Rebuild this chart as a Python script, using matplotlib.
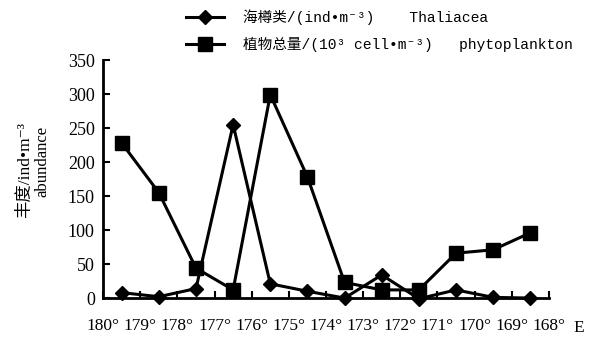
import numpy as np
import matplotlib
matplotlib.use('Agg')
import matplotlib.pyplot as plt

plt.rcParams['font.family'] = ['Liberation Serif', 'Noto Sans CJK SC', 'DejaVu Serif']

# longitude labels sit on the cell boundaries, stations sit in the cells
lon_labels = ['180°', '179°', '178°', '177°', '176°', '175°', '174°',
              '173°', '172°', '171°', '170°', '169°', '168°']
thaliacea = [8, 2, 14, 255, 21, 10, 0, 34, -1, 12, 1, 0]
phytoplankton = [228, 155, 44, 12, 299, 178, 23, 12, 12, 66, 71, 96]

x = np.arange(len(thaliacea)) + 0.5

fig = plt.figure(figsize=(5.96, 3.43), dpi=100)
ax = fig.add_axes([0.173, 0.131, 0.748, 0.694])

l1, = ax.plot(x, thaliacea, color='black', lw=2.2, marker='D', ms=7.5,
              clip_on=False, zorder=3)
l2, = ax.plot(x, phytoplankton, color='black', lw=2.2, marker='s', ms=10,
              clip_on=False, zorder=3)

ax.set_xlim(0, len(thaliacea))
ax.set_ylim(0, 350)
ax.set_yticks(range(0, 351, 50))
ax.set_xticks(np.arange(len(lon_labels)))
ax.set_xticklabels(lon_labels)
ax.tick_params(axis='both', direction='in', length=5, width=1.5,
               labelsize=13, pad=6)
ax.tick_params(axis='x', pad=14, labelsize=12.5)
for s in ['top', 'right']:
    ax.spines[s].set_visible(False)
for s in ['left', 'bottom']:
    ax.spines[s].set_linewidth(2)

fig.text(0.963, 0.044, 'E', fontsize=12.5, ha='left', va='center')

fig.text(0.042, 0.504, '丰度/ind•m⁻³', rotation=90, fontsize=12.5,
         ha='center', va='center')
fig.text(0.071, 0.528, 'abundance', rotation=90, fontsize=12,
         ha='center', va='center')

leg = fig.legend([l1, l2],
                 ['海樽类/(ind•m⁻³)    Thaliacea',
                  '植物总量/(10³ cell•m⁻³)   phytoplankton'],
                 loc='upper left', bbox_to_anchor=(0.29, 1.01),
                 frameon=False, handlelength=2.6, handletextpad=1.3,
                 labelspacing=0.8,
                 prop={'family': ['Liberation Mono', 'Noto Sans CJK SC', 'DejaVu Sans Mono'],
                       'size': 10.5})

fig.savefig('out.png', dpi=100)
